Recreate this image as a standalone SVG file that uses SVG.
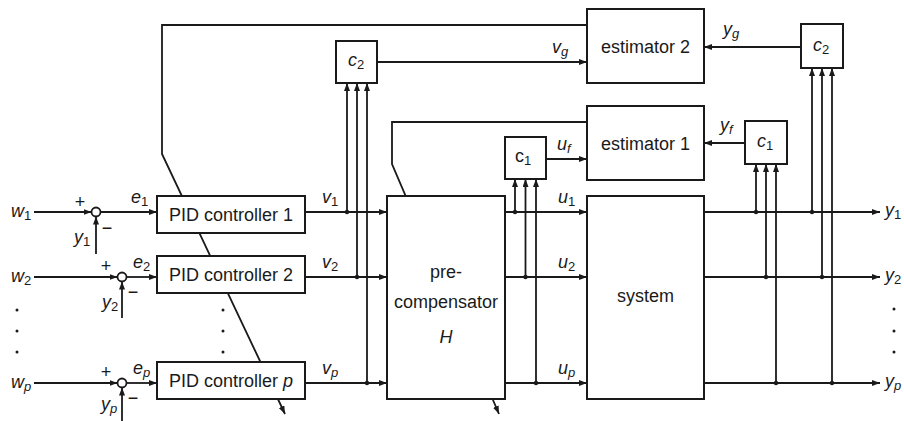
<svg xmlns="http://www.w3.org/2000/svg" width="904" height="421" viewBox="0 0 904 421">
<style>
.t{font-family:"Liberation Sans",Arial,Helvetica,sans-serif;font-size:18px;fill:#1a1a1a}
.i{font-style:italic}
.m{text-anchor:middle}
.sb{font-size:13px;font-style:normal}
.si{font-size:13px;font-style:italic}
.box{fill:#fff;stroke:#1a1a1a;stroke-width:2}
.ln{fill:none;stroke:#1a1a1a;stroke-width:1.8}
.ar{fill:none;stroke:#1a1a1a;stroke-width:1.8;marker-end:url(#a)}
.dot{fill:#1a1a1a}
.sum{fill:#fff;stroke:#1a1a1a;stroke-width:1.8}
</style>
<defs>
<marker id="a" viewBox="0 0 8 6" refX="8" refY="3" markerWidth="8" markerHeight="6" markerUnits="userSpaceOnUse" orient="auto">
<path d="M0,0 L8,3 L0,6 z" fill="#1a1a1a"/>
</marker>
</defs>
<rect width="904" height="421" fill="#fff"/>

<g id="connectors">
<polyline class="ar" points="587,25 162,25 162,154 285,414"/>
<polyline class="ar" points="587,122 392,122 392,164 499,414"/>
<line class="ar" x1="34" y1="212" x2="91.5" y2="212"/>
<line class="ar" x1="34" y1="277" x2="117.5" y2="277"/>
<line class="ar" x1="34" y1="383" x2="117.5" y2="383"/>
<line class="ar" x1="96" y1="254" x2="96" y2="216.5"/>
<line class="ar" x1="122" y1="318" x2="122" y2="281.5"/>
<line class="ar" x1="122" y1="421" x2="122" y2="387.5"/>
<line class="ar" x1="100.5" y1="212" x2="157" y2="212"/>
<line class="ar" x1="126.5" y1="277" x2="157" y2="277"/>
<line class="ar" x1="126.5" y1="383" x2="157" y2="383"/>
<line class="ar" x1="305" y1="212" x2="387" y2="212"/>
<line class="ar" x1="305" y1="277" x2="387" y2="277"/>
<line class="ar" x1="305" y1="383" x2="387" y2="383"/>
<line class="ar" x1="347" y1="212" x2="347" y2="83"/>
<line class="ar" x1="357" y1="277" x2="357" y2="83"/>
<line class="ar" x1="367" y1="383" x2="367" y2="83"/>
<line class="ar" x1="377" y1="62" x2="587" y2="62"/>
<line class="ar" x1="505" y1="212" x2="587" y2="212"/>
<line class="ar" x1="505" y1="277" x2="587" y2="277"/>
<line class="ar" x1="505" y1="383" x2="587" y2="383"/>
<line class="ar" x1="515" y1="212" x2="515" y2="179"/>
<line class="ar" x1="525.5" y1="277" x2="525.5" y2="179"/>
<line class="ar" x1="536" y1="383" x2="536" y2="179"/>
<line class="ar" x1="546" y1="159" x2="587" y2="159"/>
<line class="ar" x1="704" y1="212" x2="880" y2="212"/>
<line class="ar" x1="704" y1="277" x2="880" y2="277"/>
<line class="ar" x1="704" y1="383" x2="880" y2="383"/>
<line class="ar" x1="756" y1="212" x2="756" y2="164"/>
<line class="ar" x1="766" y1="277" x2="766" y2="164"/>
<line class="ar" x1="776" y1="383" x2="776" y2="164"/>
<line class="ar" x1="812" y1="212" x2="812" y2="68"/>
<line class="ar" x1="822" y1="277" x2="822" y2="68"/>
<line class="ar" x1="832" y1="383" x2="832" y2="68"/>
<line class="ar" x1="745" y1="143" x2="704" y2="143"/>
<line class="ar" x1="801" y1="47" x2="704" y2="47"/>
<circle class="dot" cx="347" cy="212" r="2.2"/>
<circle class="dot" cx="357" cy="277" r="2.2"/>
<circle class="dot" cx="367" cy="383" r="2.2"/>
<circle class="dot" cx="515" cy="212" r="2.2"/>
<circle class="dot" cx="525.5" cy="277" r="2.2"/>
<circle class="dot" cx="536" cy="383" r="2.2"/>
<circle class="dot" cx="756" cy="212" r="2.2"/>
<circle class="dot" cx="766" cy="277" r="2.2"/>
<circle class="dot" cx="776" cy="383" r="2.2"/>
<circle class="dot" cx="812" cy="212" r="2.2"/>
<circle class="dot" cx="822" cy="277" r="2.2"/>
<circle class="dot" cx="832" cy="383" r="2.2"/>
<circle class="dot" cx="17" cy="310" r="1.5"/>
<circle class="dot" cx="17" cy="331" r="1.5"/>
<circle class="dot" cx="17" cy="352" r="1.5"/>
<circle class="dot" cx="223" cy="310" r="1.5"/>
<circle class="dot" cx="223" cy="331" r="1.5"/>
<circle class="dot" cx="223" cy="352" r="1.5"/>
<circle class="dot" cx="894" cy="309" r="1.5"/>
<circle class="dot" cx="894" cy="331" r="1.5"/>
<circle class="dot" cx="894" cy="352" r="1.5"/>
</g>

<g id="sum1"><circle class="sum" cx="96" cy="212" r="4.5"/></g>
<g id="sum2"><circle class="sum" cx="122" cy="277" r="4.5"/></g>
<g id="sump"><circle class="sum" cx="122" cy="383" r="4.5"/></g>

<g id="pid1"><rect class="box" x="157" y="196" width="148" height="37"/><text class="t m" x="231" y="221">PID controller 1</text></g>
<g id="pid2"><rect class="box" x="157" y="256" width="148" height="37"/><text class="t m" x="231" y="281">PID controller 2</text></g>
<g id="pidp"><rect class="box" x="157" y="362" width="148" height="37"/><text class="t m" x="231" y="387">PID controller <tspan class="i">p</tspan></text></g>

<g id="c2left"><rect class="box" x="336" y="41" width="41" height="42"/><text class="t i" x="348" y="66">c<tspan class="sb" dy="3">2</tspan></text></g>
<g id="estimator2"><rect class="box" x="587" y="9" width="117" height="74"/><text class="t m" x="645.5" y="53">estimator 2</text></g>
<g id="estimator1"><rect class="box" x="587" y="106" width="117" height="74"/><text class="t m" x="645.5" y="150">estimator 1</text></g>
<g id="c1left"><rect class="box" x="505" y="137" width="41" height="42"/><text class="t" x="515" y="162">c<tspan class="sb" dy="3">1</tspan></text></g>
<g id="precompensator"><rect class="box" x="387" y="196" width="118" height="203"/>
<text class="t m" x="446" y="278">pre-</text>
<text class="t m" x="446" y="308">compensator</text>
<text class="t m i" x="446" y="343">H</text></g>
<g id="system"><rect class="box" x="587" y="196" width="117" height="203"/><text class="t m" x="645.5" y="302">system</text></g>
<g id="c1right"><rect class="box" x="745" y="121" width="42" height="43"/><text class="t i" x="757" y="147">c<tspan class="sb" dy="3">1</tspan></text></g>
<g id="c2right"><rect class="box" x="801" y="24" width="42" height="44"/><text class="t i" x="813" y="51">c<tspan class="sb" dy="3">2</tspan></text></g>

<g id="labels">
<text class="t i" x="11" y="217">w<tspan class="sb" dy="3">1</tspan></text>
<text class="t i" x="11" y="282">w<tspan class="sb" dy="3">2</tspan></text>
<text class="t i" x="11" y="388">w<tspan class="si" dy="3">p</tspan></text>
<text class="t" x="80" y="208" font-size="16" text-anchor="middle">+</text>
<text class="t" x="106" y="272" font-size="16" text-anchor="middle">+</text>
<text class="t" x="106" y="378" font-size="16" text-anchor="middle">+</text>
<text class="t" x="107" y="234" font-size="16" text-anchor="middle">−</text>
<text class="t" x="133" y="298" font-size="16" text-anchor="middle">−</text>
<text class="t" x="133" y="404" font-size="16" text-anchor="middle">−</text>
<text class="t i" x="74" y="243">y<tspan class="sb" dy="3">1</tspan></text>
<text class="t i" x="102" y="308">y<tspan class="sb" dy="3">2</tspan></text>
<text class="t i" x="101" y="410">y<tspan class="si" dy="3">p</tspan></text>
<text class="t i" x="131" y="203">e<tspan class="sb" dy="3">1</tspan></text>
<text class="t i" x="133" y="268">e<tspan class="sb" dy="3">2</tspan></text>
<text class="t i" x="133" y="374">e<tspan class="si" dy="3">p</tspan></text>
<text class="t i" x="322" y="203">v<tspan class="sb" dy="3">1</tspan></text>
<text class="t i" x="322" y="268">v<tspan class="sb" dy="3">2</tspan></text>
<text class="t i" x="322" y="374">v<tspan class="si" dy="3">p</tspan></text>
<text class="t i" x="552" y="53">v<tspan class="si" dy="3">g</tspan></text>
<text class="t i" x="557" y="150">u<tspan class="si" dy="3">f</tspan></text>
<text class="t i" x="558" y="203">u<tspan class="sb" dy="3">1</tspan></text>
<text class="t i" x="558" y="268">u<tspan class="sb" dy="3">2</tspan></text>
<text class="t i" x="558" y="374">u<tspan class="si" dy="3">p</tspan></text>
<text class="t i" x="723" y="35">y<tspan class="si" dy="3">g</tspan></text>
<text class="t i" x="720" y="131">y<tspan class="si" dy="3">f</tspan></text>
<text class="t i" x="885" y="216">y<tspan class="sb" dy="3">1</tspan></text>
<text class="t i" x="885" y="281">y<tspan class="sb" dy="3">2</tspan></text>
<text class="t i" x="885" y="387">y<tspan class="si" dy="3">p</tspan></text>
</g>
</svg>
